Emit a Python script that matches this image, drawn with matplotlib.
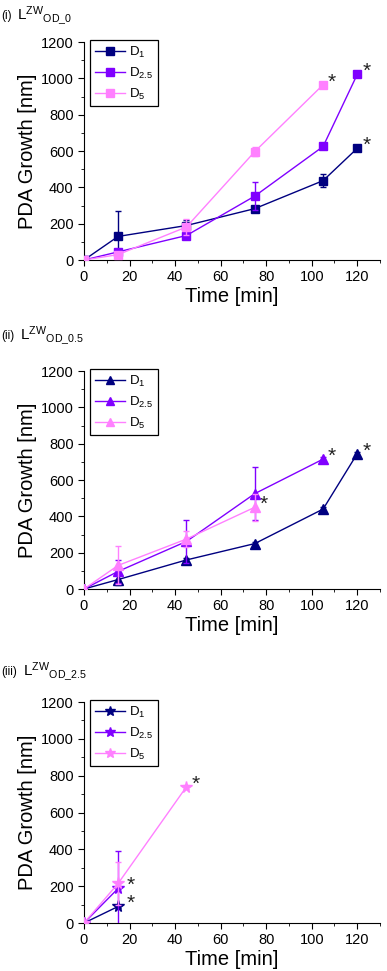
import matplotlib.pyplot as plt

plt.rcParams['font.family'] = ['Liberation Sans', 'DejaVu Sans']
plt.rcParams['mathtext.fontset'] = 'custom'
plt.rcParams['mathtext.rm'] = 'Liberation Sans'
plt.rcParams['mathtext.it'] = 'Liberation Sans:italic'

# data (time in min, PDA growth in nm)
labels = ['D$_1$', 'D$_{2.5}$', 'D$_5$']
colors = ['#000080', '#8000ff', '#ff80ff']

# (i) L^ZW OD_0
t1 = [[0, 15, 45, 75, 105, 120], [0, 15, 45, 75, 105, 120], [0, 15, 45, 75, 105]]
y1 = [[0, 130, 190, 283, 437, 615], [0, 45, 135, 352, 625, 1022], [0, 30, 182, 597, 965]]
e1 = [[0, 140, 30, 15, 35, 10], [0, 15, 15, 78, 15, 10], [0, 10, 45, 25, 10]]

# (ii) L^ZW OD_0.5
t2 = [[0, 15, 45, 75, 105, 120], [0, 15, 45, 75, 105], [0, 15, 45, 75]]
y2 = [[0, 52, 160, 250, 440, 745], [0, 97, 262, 525, 715], [0, 130, 275, 450]]
e2 = [[0, 30, 10, 10, 10, 10], [0, 65, 120, 147, 10], [0, 105, 45, 75]]

# (iii) L^ZW OD_2.5
t3 = [[0, 15], [0, 15], [0, 15, 45]]
y3 = [[0, 90], [0, 188], [0, 215, 740]]
e3 = [[0, 10], [0, 205], [0, 115, 10]]

titles = [r'L$^{\mathrm{ZW}}$$_{\mathrm{OD\_0}}$',
          r'L$^{\mathrm{ZW}}$$_{\mathrm{OD\_0.5}}$',
          r'L$^{\mathrm{ZW}}$$_{\mathrm{OD\_2.5}}$']
roman = ['(i)', '(ii)', '(iii)']
markers = ['s', '^', '*']
msizes = [6, 7, 8.5]

panels = [(t1, y1, e1), (t2, y2, e2), (t3, y3, e3)]

fig = plt.figure(figsize=(3.87, 9.71), dpi=100)
# axes boxes in figure fraction: left, bottom, width, height
boxes = [[0.217, 0.7322, 0.765, 0.2245],
         [0.217, 0.3934, 0.765, 0.2245],
         [0.217, 0.0494, 0.765, 0.2276]]
title_y = [0.984, 0.654, 0.308]
title_x = [0.044, 0.052, 0.06]

for k, (t, y, e) in enumerate(panels):
    ax = fig.add_axes(boxes[k])
    for i in range(3):
        ax.errorbar(t[i], y[i], yerr=e[i], fmt='none', ecolor=colors[i],
                    elinewidth=1, capsize=2, capthick=1, zorder=2 + i)
        ax.plot(t[i], y[i], color=colors[i], marker=markers[k], markersize=msizes[k],
                linewidth=1, label=labels[i], zorder=3 + i)
        # asterisk next to the last point of each series
        off = (9, 2) if k == 2 and i < 2 else (6.5, 2)
        ax.annotate('*', (t[i][-1], y[i][-1]), xytext=off, textcoords='offset points',
                    ha='center', va='center', fontsize=15, color='#222222')
    ax.set_xlim(0, 130)
    ax.set_ylim(0, 1200)
    ax.set_xticks(range(0, 121, 20))
    ax.set_xticks(range(10, 131, 20), minor=True)
    ax.set_yticks(range(0, 1201, 200))
    ax.set_yticks(range(100, 1200, 200), minor=True)
    ax.tick_params(which='both', direction='out', labelsize=10.5)
    ax.tick_params(which='major', length=4)
    ax.tick_params(which='minor', length=2.5)
    ax.spines['top'].set_visible(False)
    ax.spines['right'].set_visible(False)
    ax.set_xlabel('Time [min]', fontsize=14.5, labelpad=2)
    ax.set_ylabel('PDA Growth [nm]', fontsize=14.5, labelpad=3)
    leg = ax.legend(loc='upper left', bbox_to_anchor=(0.02, 1.01), borderaxespad=0,
                    fancybox=False, edgecolor='black', fontsize=9.5, numpoints=1,
                    handlelength=2.3, handletextpad=0.3, labelspacing=0.45,
                    borderpad=0.35, framealpha=1, markerscale=0.85)
    leg.get_frame().set_linewidth(0.9)

    fig.text(0.004, title_y[k], roman[k], fontsize=8.5, va='center')
    fig.text(title_x[k], title_y[k], titles[k], fontsize=11, va='center')

fig.savefig('out.png', dpi=100)
